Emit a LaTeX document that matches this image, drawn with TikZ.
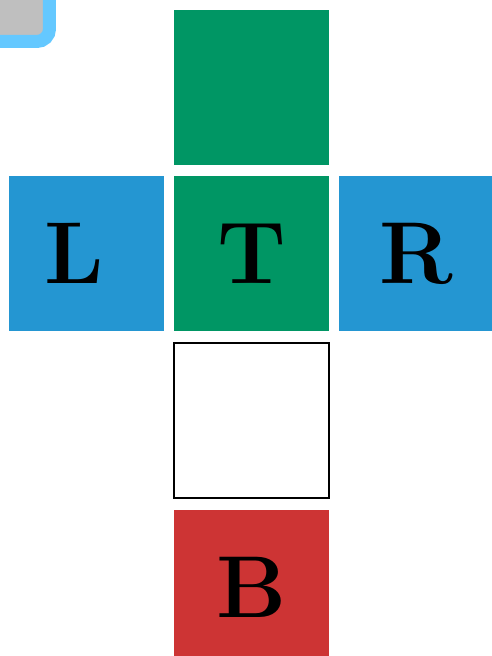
\documentclass[tikz,border=0pt]{standalone}
\usetikzlibrary{positioning}
\definecolor{facegreen}{RGB}{0,150,100}
\definecolor{faceblue}{RGB}{36,150,210}
\definecolor{facered}{RGB}{205,52,52}
\definecolor{selblue}{RGB}{100,200,255}
\begin{document}
\begin{tikzpicture}[x=0.02cm,y=-0.02cm,
 f/.style={minimum size=3.1cm,inner sep=0pt,outer sep=0pt,
 font=\fontsize{50}{60}\selectfont\bfseries},
 sel/.style={f,fill=black!25,draw=selblue,line width=0.26cm,rounded corners=0.25cm}]
\useasboundingbox (0,0) rectangle (491,656);
\node[f,fill=facegreen] (t) at (251.5,253.5) {T};
\node[f,fill=facegreen,above=0.22cm of t] (top) {};
\node[f,fill=faceblue,left=0.2cm of t] (l) {L\kern0.5cm};
\node[f,fill=faceblue,right=0.2cm of t] (r) {R};
\node[f,draw=black,line width=1.2pt,below=0.24cm of t] (e) {};
\node[f,fill=facered,below=0.24cm of e] (b) {B};
\node[sel] (corner) at (-28,-36) {};
\end{tikzpicture}
\end{document}
